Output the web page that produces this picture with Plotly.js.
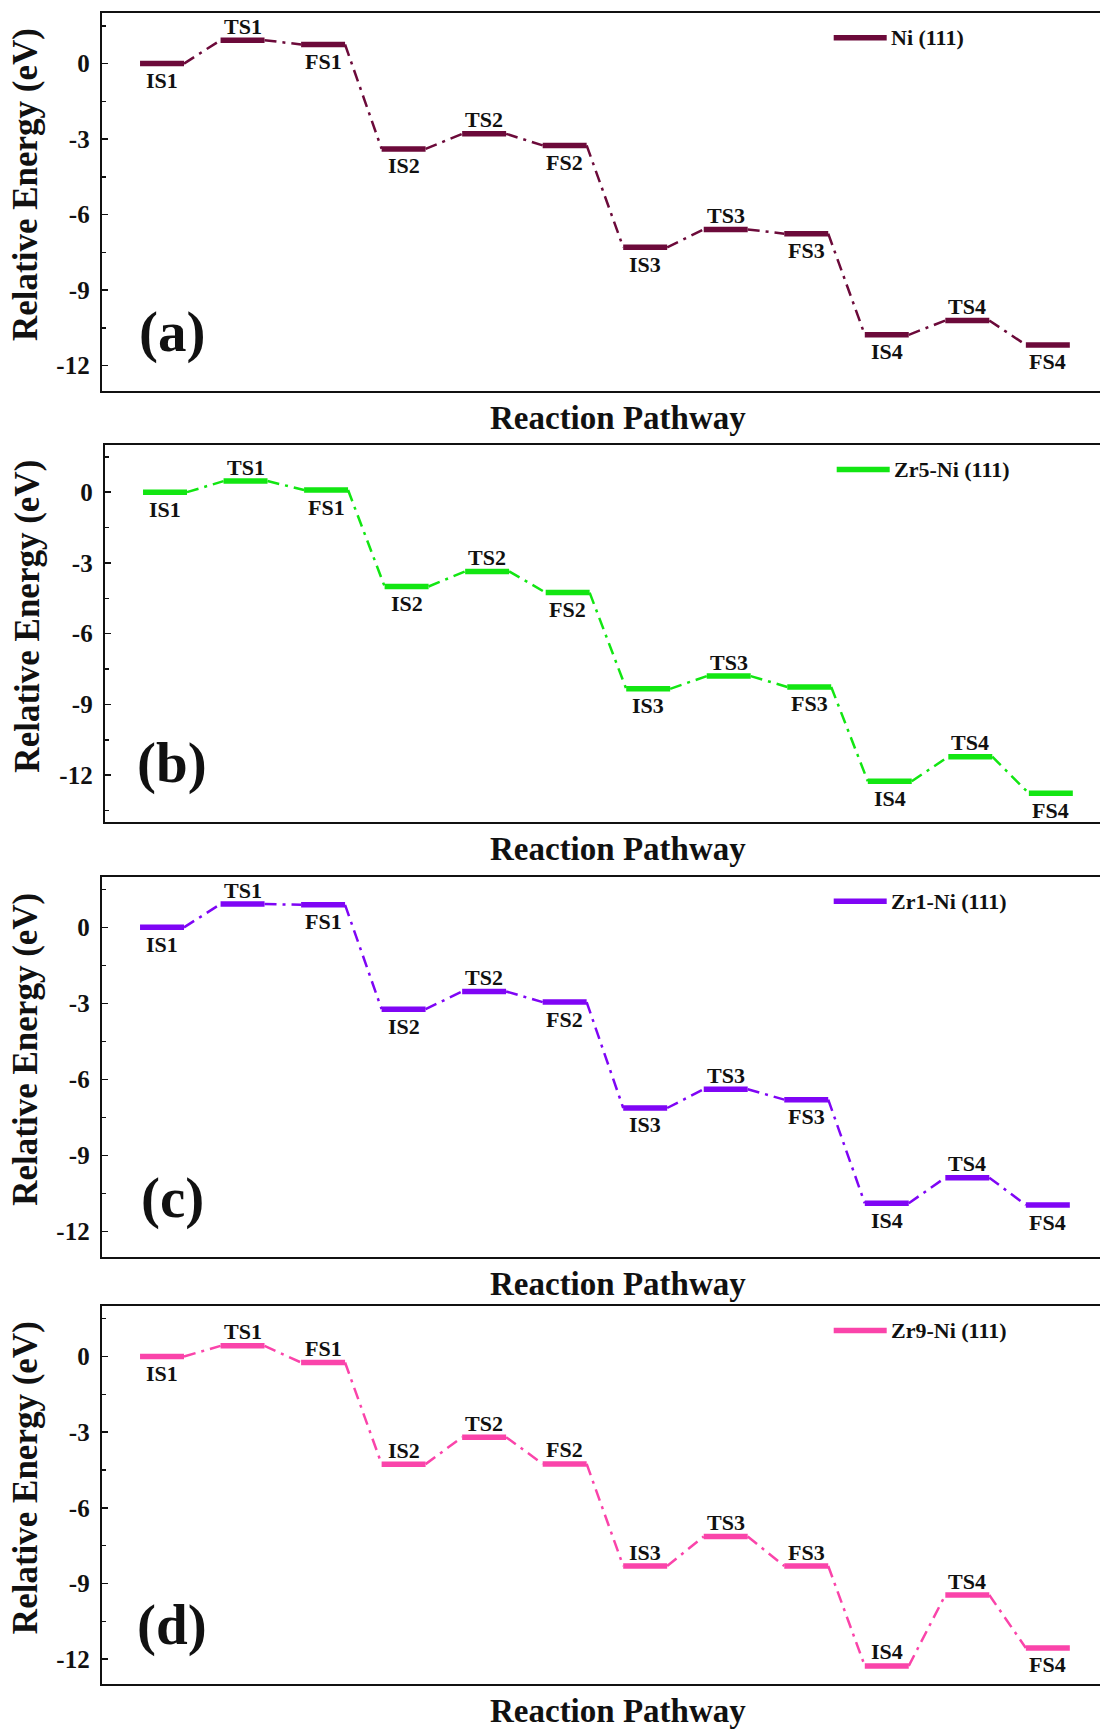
<!DOCTYPE html>
<html>
<head>
<meta charset="utf-8">
<script src="https://cdn.plot.ly/plotly-3.0.1.min.js"></script>
<style>
  html, body { margin: 0; padding: 0; overflow: hidden; background: #ffffff; }
  #chart { width: 1140px; height: 1731px; }
</style>
</head>
<body>
<div id="chart"></div>
<script>
// ---------------- DATA ----------------
const stages = ['IS1','TS1','FS1','IS2','TS2','FS2','IS3','TS3','FS3','IS4','TS4','FS4'];
const energyNi  = [0, 0.93, 0.76, -3.39, -2.79, -3.25, -7.30, -6.59, -6.76, -10.78, -10.21, -11.18];
const energyZr5 = [0, 0.47, 0.09, -4.00, -3.36, -4.26, -8.34, -7.80, -8.26, -12.26, -11.22, -12.77];
const energyZr1 = [0, 0.92, 0.89, -3.23, -2.53, -2.95, -7.13, -6.39, -6.80, -10.89, -9.88, -10.96];
const energyZr9 = [0, 0.42, -0.24, -4.27, -3.20, -4.26, -8.31, -7.14, -8.31, -12.27, -9.46, -11.56];
const seriesNames  = ['Ni (111)', 'Zr5-Ni (111)', 'Zr1-Ni (111)', 'Zr9-Ni (111)'];
const panelLetters = ['(a)', '(b)', '(c)', '(d)'];
const yTickVals = [-12, -9, -6, -3, 0];
const yTickText = ['-12', '-9', '-6', '-3', '0'];
const xTitle = 'Reaction Pathway';
const yTitle = 'Relative Energy (eV)';

// ---------------- STYLE / LAYOUT ----------------
const W = 1140, H = 1731;
const FONT = '"Times New Roman", "Liberation Serif", serif';
const colors = ['#6C0A3A', '#12E612', '#7F05F5', '#FA44AA'];
// label placement: stages whose label sits above the level
const aboveSets = [
  ['TS1','TS2','TS3','TS4'],
  ['TS1','TS2','TS3','TS4'],
  ['TS1','TS2','TS3','TS4'],
  ['TS1','FS1','IS2','TS2','FS2','IS3','TS3','FS3','IS4','TS4']
];
const yRanges = [[-13, 2], [-14, 2], [-13, 2], [-13, 2]];
// pixel boxes [left, right, top, bottom]
const boxes = [
  [101.7, 1134, 13.3, 390.7],
  [104.7, 1137, 445.0, 822.3],
  [101.7, 1134, 876.7, 1256.7],
  [101.7, 1134, 1306.0, 1684.3]
];
const yTitleX = [25, 28, 26, 25];
const halfW = 0.273;
const xRange = [0.251, 13.07];

const allEnergies = [energyNi, energyZr5, energyZr1, energyZr9];

const data = [];
const layout = {
  width: W, height: H,
  margin: {l: 0, r: 0, t: 0, b: 0},
  paper_bgcolor: '#ffffff', plot_bgcolor: '#ffffff',
  showlegend: false,
  font: {family: FONT, color: '#111111'},
  annotations: [],
  shapes: []
};

allEnergies.forEach((energy, p) => {
  const ax = p === 0 ? '' : String(p + 1);
  const xa = 'x' + ax, ya = 'y' + ax;
  const [L, R, T, B] = boxes[p];

  // level segments
  const lx = [], ly = [];
  energy.forEach((v, i) => {
    const c = i + 1;
    lx.push(c - halfW, c + halfW, null);
    ly.push(v, v, null);
  });
  // connectors
  const cx = [], cy = [];
  for (let i = 0; i < energy.length - 1; i++) {
    cx.push(i + 1 + halfW, i + 2 - halfW, null);
    cy.push(energy[i], energy[i + 1], null);
  }
  data.push({
    x: cx, y: cy, xaxis: xa, yaxis: ya, mode: 'lines', type: 'scatter',
    line: {color: colors[p], width: 2.5, dash: '12px,6px,3px,6px'},
    hoverinfo: 'skip', showlegend: false
  });
  data.push({
    x: lx, y: ly, xaxis: xa, yaxis: ya, mode: 'lines', type: 'scatter',
    line: {color: colors[p], width: 5.5},
    name: seriesNames[p], showlegend: false
  });

  layout['xaxis' + ax] = {
    domain: [L / W, R / W], range: xRange, anchor: ya,
    showline: true, linewidth: 2, linecolor: '#111', mirror: true,
    ticks: '', showticklabels: false, showgrid: false, zeroline: false, fixedrange: true
  };
  layout['yaxis' + ax] = {
    domain: [1 - B / H, 1 - T / H], range: yRanges[p], anchor: xa,
    showline: true, linewidth: 2, linecolor: '#111', mirror: true,
    tickvals: yTickVals, ticktext: yTickText,
    ticks: 'inside', ticklen: 6, tickwidth: 1.5, tickcolor: '#111',
    minor: {ticks: 'inside', ticklen: 4, tickwidth: 1.5, tickcolor: '#111', dtick: 1.5, tick0: 0},
    tickfont: {family: FONT, size: 25, color: '#111', weight: 'bold'},
    ticklabelstandoff: 5,
    showgrid: false, zeroline: false, fixedrange: true
  };

  // stage labels
  energy.forEach((v, i) => {
    const above = aboveSets[p].includes(stages[i]);
    layout.annotations.push({
      x: i + 1, y: v, xref: xa, yref: ya, text: stages[i], showarrow: false,
      xanchor: 'center', yanchor: 'middle', yshift: above ? 14 : -17,
      font: {family: FONT, size: 22, color: '#111', weight: 'bold'}
    });
  });

  // panel letter
  layout.annotations.push({
    x: 172 / W, y: 1 - (B - 59) / H, xref: 'paper', yref: 'paper',
    text: panelLetters[p], showarrow: false, xanchor: 'center', yanchor: 'middle',
    font: {family: FONT, size: 57, color: '#111', weight: 'bold'}
  });

  // axis titles
  layout.annotations.push({
    x: 617.5 / W, y: 1 - (B + 27) / H, xref: 'paper', yref: 'paper',
    text: xTitle, showarrow: false, xanchor: 'center', yanchor: 'middle',
    font: {family: FONT, size: 33, color: '#111', weight: 'bold'}
  });
  layout.annotations.push({
    x: yTitleX[p] / W, y: 1 - ((T + B) / 2 - 17) / H, xref: 'paper', yref: 'paper',
    text: yTitle, showarrow: false, textangle: -90, xanchor: 'center', yanchor: 'middle',
    font: {family: FONT, size: 35, color: '#111', weight: 'bold'}
  });

  // legend sample + text
  const ly0 = 1 - (T + 24.5) / H;
  layout.shapes.push({
    type: 'line', xref: 'paper', yref: 'paper',
    x0: (L + 732) / W, x1: (L + 785) / W, y0: ly0, y1: ly0,
    line: {color: colors[p], width: 5.5}
  });
  layout.annotations.push({
    x: (L + 787) / W, y: ly0, xref: 'paper', yref: 'paper',
    text: seriesNames[p], showarrow: false, xanchor: 'left', yanchor: 'middle',
    font: {family: FONT, size: 22, color: '#111', weight: 'bold'}
  });
});

Plotly.newPlot('chart', data, layout, {displayModeBar: false, staticPlot: true});
</script>
</body>
</html>
